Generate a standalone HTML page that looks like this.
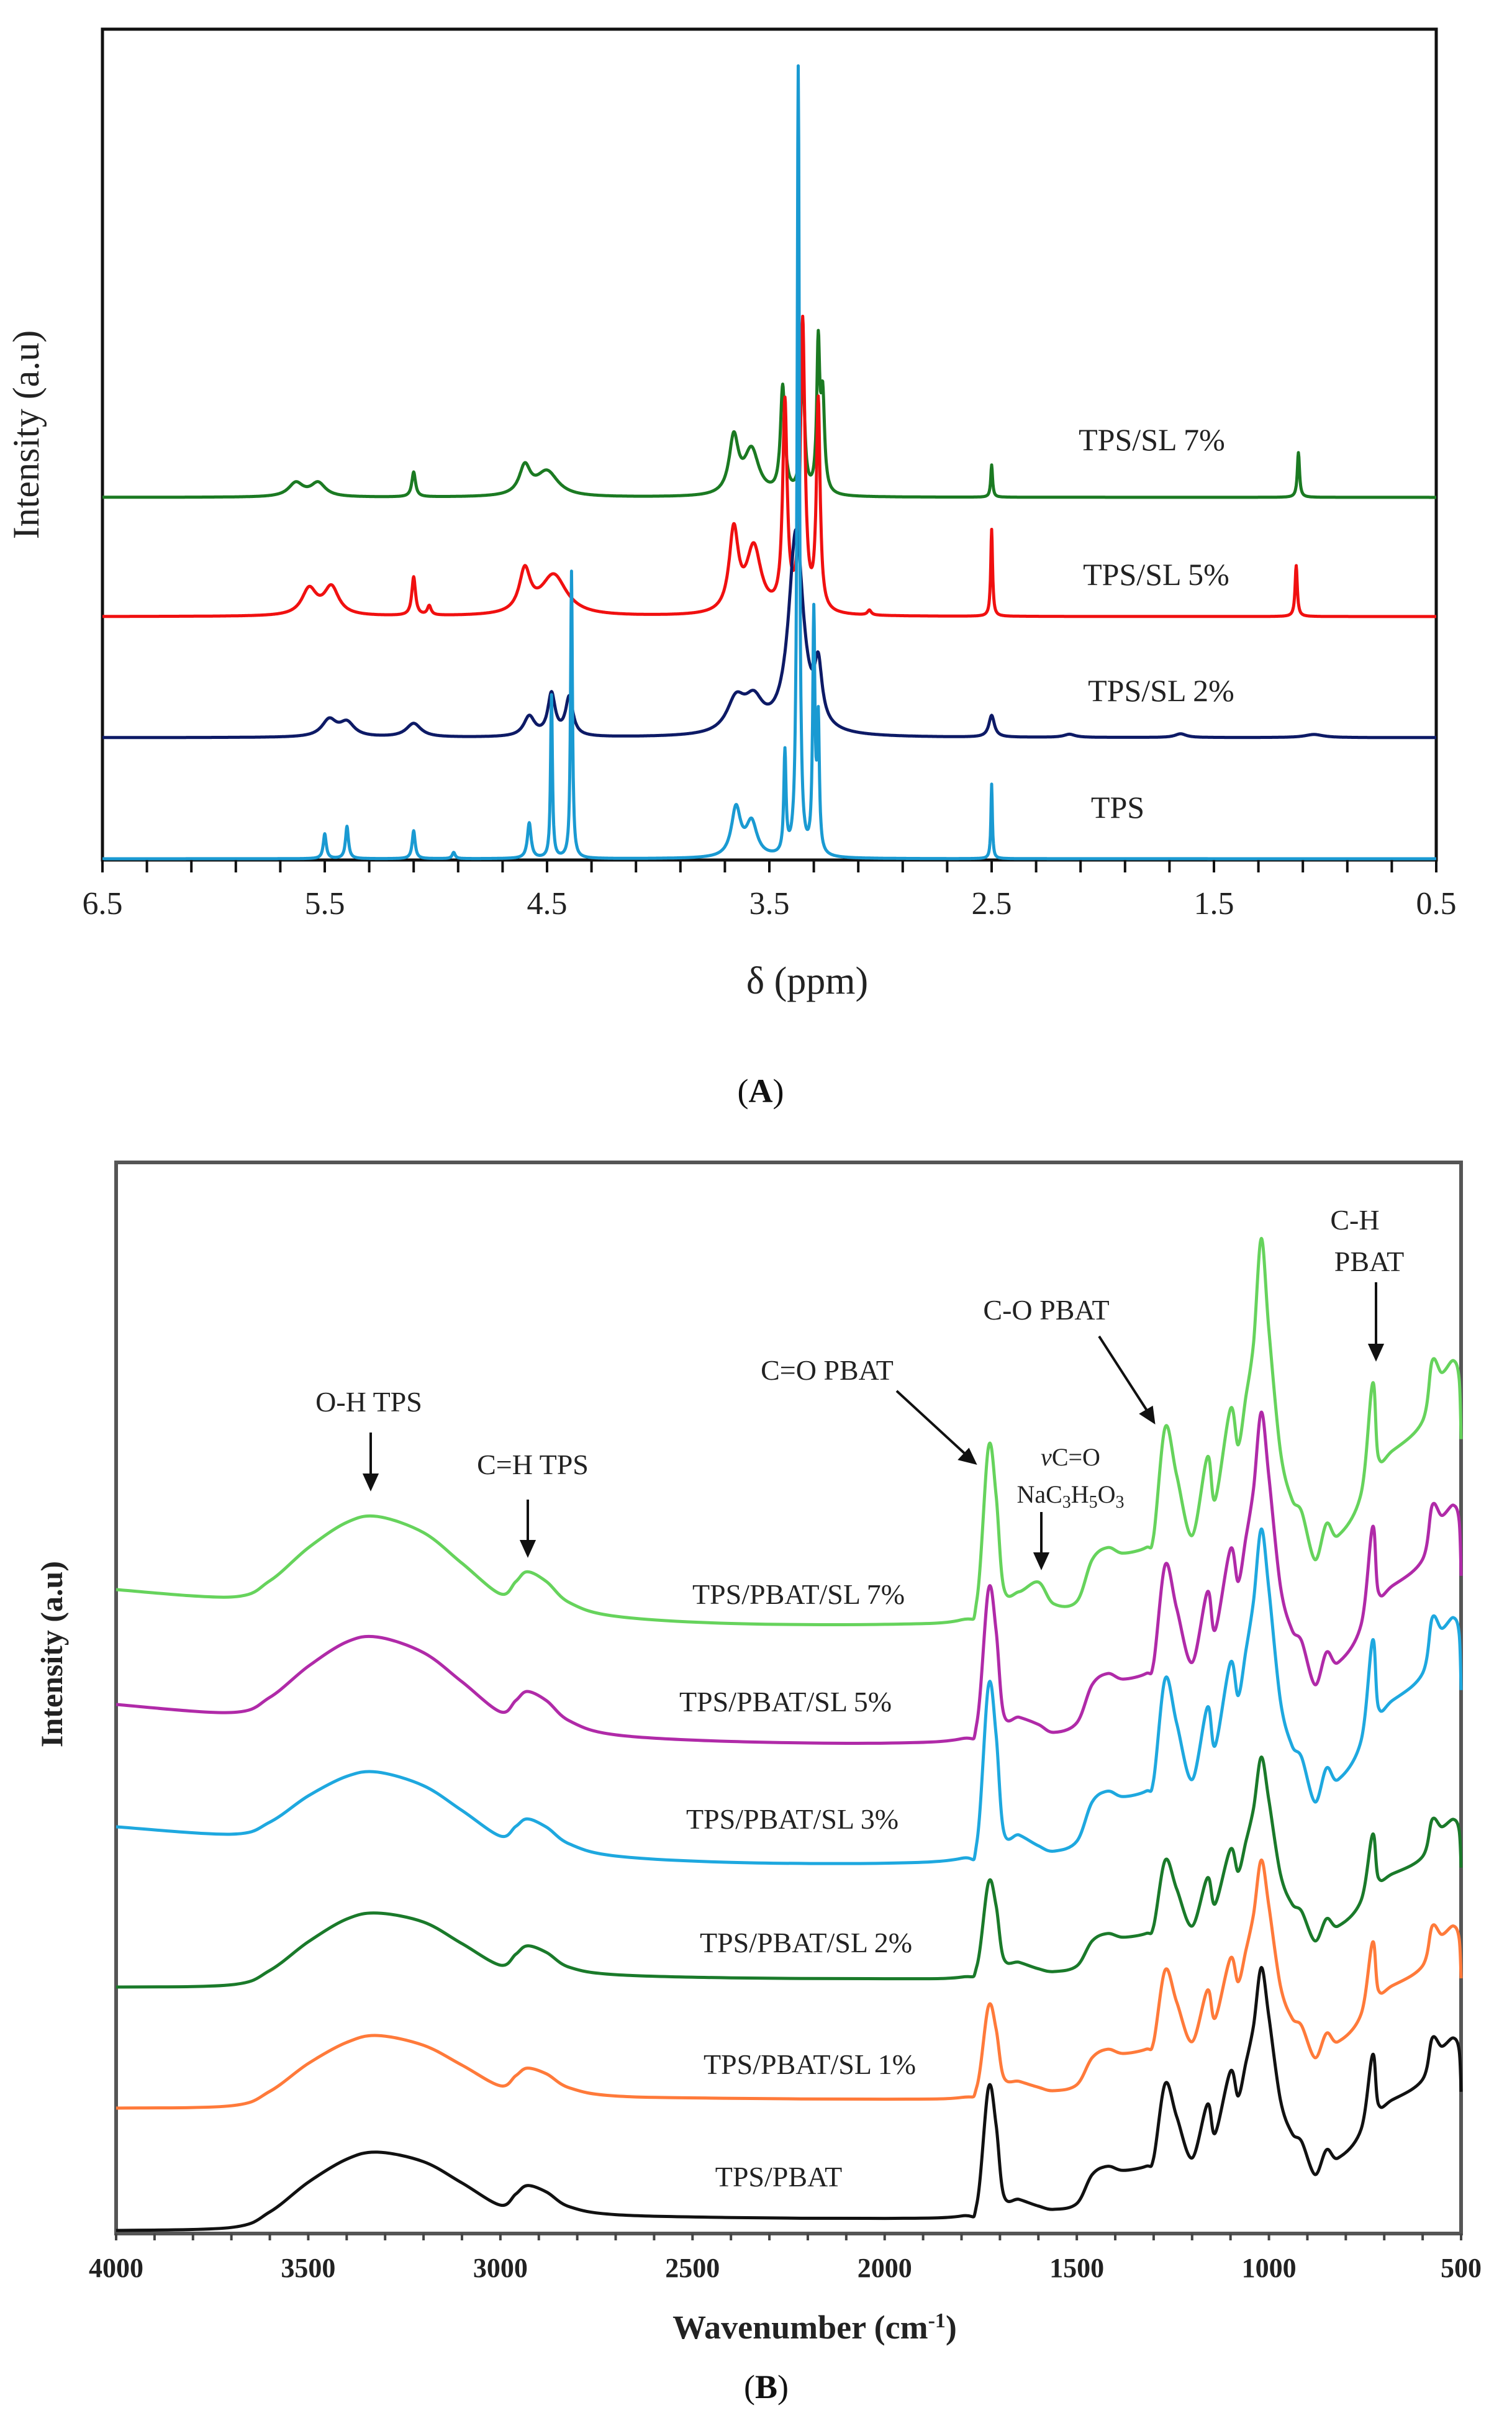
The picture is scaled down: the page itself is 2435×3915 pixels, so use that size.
<!DOCTYPE html>
<html><head><meta charset="utf-8"><style>
html,body{margin:0;padding:0;background:#fff}
svg{display:block}
text{font-family:"Liberation Serif",serif}
</style></head><body>
<svg id="fig" width="2435" height="3915" viewBox="0 0 2435 3915" xmlns="http://www.w3.org/2000/svg">
<g id="panelA">
<rect x="165" y="47" width="2148" height="1338" fill="none" stroke="#111" stroke-width="5"/>
<g id="gA"></g>
<text x="62" y="700" font-size="60" text-anchor="middle" transform="rotate(-90 62 700)" fill="#222">Intensity  (a.u)</text>
<text x="1300" y="1600" font-size="62" text-anchor="middle" fill="#222">δ (ppm)</text>
<text x="1855" y="725" font-size="50" text-anchor="middle" fill="#222">TPS/SL  7%</text>
<text x="1862" y="942" font-size="50" text-anchor="middle" fill="#222">TPS/SL  5%</text>
<text x="1870" y="1129" font-size="50" text-anchor="middle" fill="#222">TPS/SL  2%</text>
<text x="1800" y="1317" font-size="50" text-anchor="middle" fill="#222">TPS</text>
<text x="1225" y="1775" font-size="54" text-anchor="middle" fill="#111">(<tspan font-weight="bold">A</tspan>)</text>
</g>
<g id="panelB">
<rect x="187" y="1872" width="2166" height="1725" fill="none" stroke="#555" stroke-width="6"/>
<g id="gB"></g>
<text x="100" y="2664" font-size="50" font-weight="bold" text-anchor="middle" transform="rotate(-90 100 2664)" fill="#222">Intensity (a.u)</text>
<text x="1312" y="3766" font-size="54" font-weight="bold" text-anchor="middle" fill="#222">Wavenumber (cm<tspan baseline-shift="super" font-size="34">-1</tspan>)</text>
<text x="1234" y="3862" font-size="54" text-anchor="middle" fill="#111">(<tspan font-weight="bold">B</tspan>)</text>
<g font-size="46" fill="#222" text-anchor="middle">
<text x="1286" y="2583">TPS/PBAT/SL  7%</text>
<text x="1265" y="2756">TPS/PBAT/SL  5%</text>
<text x="1276" y="2945">TPS/PBAT/SL  3%</text>
<text x="1298" y="3144">TPS/PBAT/SL  2%</text>
<text x="1304" y="3340">TPS/PBAT/SL  1%</text>
<text x="1254" y="3521">TPS/PBAT</text>
<text x="594" y="2273">O-H TPS</text>
<text x="858" y="2374">C=H TPS</text>
<text x="1332" y="2222">C=O PBAT</text>
<text x="1685" y="2125">C-O PBAT</text>
<text x="2182" y="1980">C-H</text>
<text x="2205" y="2047">PBAT</text>
<text x="1724" y="2360" font-size="40"><tspan font-style="italic">v</tspan>C=O</text>
<text x="1724" y="2420" font-size="40">NaC<tspan font-size="28" dy="8">3</tspan><tspan dy="-8">H</tspan><tspan font-size="28" dy="8">5</tspan><tspan dy="-8">O</tspan><tspan font-size="28" dy="8">3</tspan></text>
</g>
<g stroke="#111" stroke-width="4" fill="#111">
<line x1="597" y1="2307" x2="597" y2="2380"/><polygon points="587,2375 607,2375 597,2397"/>
<line x1="850" y1="2415" x2="850" y2="2487"/><polygon points="840,2482 860,2482 850,2504"/>
<line x1="1677" y1="2435" x2="1677" y2="2507"/><polygon points="1667,2502 1687,2502 1677,2524"/>
<line x1="2216" y1="2065" x2="2216" y2="2171"/><polygon points="2206,2166 2226,2166 2216,2188"/>
<line x1="1444" y1="2240" x2="1556" y2="2343"/><polygon points="1546,2350 1560,2335 1570,2356"/>
<line x1="1770" y1="2152" x2="1848" y2="2273"/><polygon points="1838,2277 1855,2267 1858,2290"/>
</g>
</g>
</svg>
<script>
// ---------- Panel A data (NMR peak lists; heights in px above baseline) ----------
const nmrTickLabels = ["6.5","5.5","4.5","3.5","2.5","1.5","0.5"];
const nmrSeriesNames = ["TPS/SL 7%","TPS/SL 5%","TPS/SL 2%","TPS"];
const nmrColors = ["#1b7a22","#f01010","#0d1a66","#1a9ad2"];
const nmrOffsets = [582, 390, 195, 0];
const ppm7 = [5.63,5.53,5.10,4.60,4.50,3.66,3.58,3.44,3.35,3.28,3.26,2.50,1.12];
const h7   = [22,22,40,45,40,90,72,172,210,232,150,52,72];
const w7   = [0.04,0.04,0.01,0.03,0.06,0.025,0.04,0.012,0.01,0.008,0.01,0.005,0.006];
const ppm5 = [5.57,5.47,5.10,5.03,4.60,4.47,3.66,3.57,3.43,3.35,3.28,3.05,2.50,1.13];
const h5   = [42,45,62,15,67,65,130,105,332,465,337,8,140,82];
const w5   = [0.04,0.04,0.01,0.01,0.03,0.07,0.025,0.04,0.012,0.012,0.01,0.01,0.005,0.006];
const ppm2 = [5.48,5.40,5.10,4.58,4.48,4.40,3.65,3.57,3.38,3.28,2.50,2.15,1.65,1.05];
const h2   = [27,22,22,32,67,62,52,47,327,90,35,5,6,5];
const w2   = [0.04,0.04,0.04,0.03,0.02,0.02,0.05,0.05,0.04,0.02,0.015,0.03,0.03,0.05];
const ppm0 = [5.50,5.40,5.10,4.92,4.58,4.48,4.39,3.65,3.58,3.43,3.37,3.30,3.28,2.50];
const h0   = [40,52,45,10,57,262,462,78,55,162,1270,382,207,120];
const w0   = [0.008,0.008,0.008,0.008,0.01,0.005,0.005,0.025,0.03,0.006,0.006,0.006,0.006,0.004];

// ---------- Panel B data (FTIR; heights above each baseline) ----------
const ftirTickLabels = ["4000","3500","3000","2500","2000","1500","1000","500"];
const ftirSeriesNames = ["TPS/PBAT/SL 7%","TPS/PBAT/SL 5%","TPS/PBAT/SL 3%","TPS/PBAT/SL 2%","TPS/PBAT/SL 1%","TPS/PBAT"];
const ftirColors = ["#66d35c","#b02aa8","#1ea8df","#1a7a2a","#ff7a3a","#111111"];
const ftirBaseLeft = [2560,2745,2942,3200,3395,3592];
const ftirBaseMid  = [2628,2818,3010,3196,3390,3582];
const ftirGain = [0.96,0.95,1.07,1.11,1.01,0.99];
const wn = [4000,3700,3600,3500,3400,3320,3200,3100,3000,2960,2930,2880,2820,2700,2400,2000,1800,1760,1730,1710,1690,1650,1600,1560,1500,1460,1420,1380,1320,1300,1270,1240,1200,1160,1140,1100,1080,1060,1040,1020,1000,970,940,915,880,850,820,760,730,715,680,600,575,550,520,505,500];
const ftir7 = [0,2,25,68,102,112,97,64,31,47,60,50,27,15,10,9,15,40,230,170,55,50,62,35,38,90,105,98,105,120,255,195,120,218,165,278,233,293,360,490,375,225,165,150,90,135,120,173,310,218,225,263,338,323,338,315,240];
const ftir5 = [0,2,24,65,98,107,93,62,30,45,57,48,26,14,10,8,14,34,202,150,45,41,32,22,34,82,96,89,96,110,233,178,110,199,151,253,212,267,329,425,343,206,151,137,82,123,110,158,281,199,206,240,308,295,308,288,219];
const ftir3 = [0,2,20,55,82,90,78,52,25,38,48,40,22,12,8,7,12,30,205,150,42,38,26,20,31,75,87,81,87,100,213,163,100,181,138,231,194,244,300,380,312,188,138,125,75,113,100,144,256,181,188,219,281,269,281,263,200];
const ftir2 = [0,2,19,53,80,87,76,50,24,37,47,39,21,12,8,7,8,20,110,85,28,24,17,14,20,47,55,51,55,63,134,103,63,115,87,146,122,154,190,245,198,119,87,79,47,71,63,91,162,115,119,138,178,170,178,166,126];
const ftir1 = [0,2,19,52,77,85,73,49,24,36,45,38,21,11,8,7,9,22,117,90,33,28,21,17,24,56,66,61,66,75,160,122,75,136,103,174,146,183,226,290,235,141,103,94,56,85,75,108,193,136,141,165,212,202,212,197,150];
const ftir0 = [0,2,20,55,82,90,78,52,25,38,48,40,22,12,8,7,10,25,165,120,35,30,22,18,25,60,70,65,70,80,170,130,80,145,110,185,155,195,240,310,250,150,110,100,60,90,80,115,205,145,150,175,225,215,225,210,160];

const NS="http://www.w3.org/2000/svg";
function mk(tag, attrs){const e=document.createElementNS(NS,tag);for(const k in attrs)e.setAttribute(k,attrs[k]);return e;}

// Panel A axes
const A={x0:165,x1:2313,y1:1383,p0:6.5,p1:0.5};
function xA(p){return A.x0+(A.p0-p)/(A.p0-A.p1)*(A.x1-A.x0);}
const gA=document.getElementById('gA');
const nmrPeaks=[[ppm7,h7,w7],[ppm5,h5,w5],[ppm2,h2,w2],[ppm0,h0,w0]];
nmrPeaks.forEach((pk,si)=>{
  let d='';
  for(let p=6.5;p>=0.499;p-=0.002){
    let v=0;
    for(let i=0;i<pk[0].length;i++){const g=pk[2][i];const t=(p-pk[0][i])/g;v+=pk[1][i]/(1+t*t);}
    const y=A.y1-nmrOffsets[si]-v;
    d+=(d?'L':'M')+xA(p).toFixed(1)+','+y.toFixed(1);
  }
  const path=mk('path',{d:d,fill:'none',stroke:nmrColors[si],'stroke-width':5,'stroke-linejoin':'round'});
  
  
  gA.appendChild(path);
});
for(let k=0;k<=30;k++){
  const p=6.5-k*0.2;const x=xA(p);
  const t=mk('line',{x1:x,y1:1385,x2:x,y2:1405,stroke:'#111','stroke-width':4});
  
  
  gA.appendChild(t);
}
nmrTickLabels.forEach(l=>{
  const t=mk('text',{x:xA(parseFloat(l)),y:1472,'font-size':52,'text-anchor':'middle',fill:'#222'});
  t.textContent=l;
  
  
  gA.appendChild(t);
});

// Panel B axes
const B={x0:187,x1:2353,w0:4000,w1:500};
function xB(w){return B.x0+(B.w0-w)/(B.w0-B.w1)*(B.x1-B.x0);}
function baseB(si,w){ if(w<=2600) return ftirBaseMid[si]; const f=(4000-w)/1400; return ftirBaseLeft[si]+(ftirBaseMid[si]-ftirBaseLeft[si])*f; }
const pxPerUnit=1.3466;
const gB=document.getElementById('gB');
const ftirData=[ftir7,ftir5,ftir3,ftir2,ftir1,ftir0];
ftirData.forEach((arr,si)=>{
  const pts=wn.map((w,i)=>{
    const g = w>=2000 ? 1.0 : ftirGain[si];
    return [xB(w), baseB(si,w)-arr[i]*pxPerUnit*g];
  });
  let d='M'+pts[0][0].toFixed(1)+','+pts[0][1].toFixed(1);
  for(let i=0;i<pts.length-1;i++){
    const p0=pts[Math.max(0,i-1)],p1=pts[i],p2=pts[i+1],p3=pts[Math.min(pts.length-1,i+2)];
    const c1=[p1[0]+(p2[0]-p0[0])/6,p1[1]+(p2[1]-p0[1])/6];
    const c2=[p2[0]-(p3[0]-p1[0])/6,p2[1]-(p3[1]-p1[1])/6];
    d+='C'+c1[0].toFixed(1)+','+c1[1].toFixed(1)+' '+c2[0].toFixed(1)+','+c2[1].toFixed(1)+' '+p2[0].toFixed(1)+','+p2[1].toFixed(1);
  }
  const path=mk('path',{d:d,fill:'none',stroke:ftirColors[si],'stroke-width':5,'stroke-linejoin':'round'});
  
  
  gB.appendChild(path);
});
for(let w=4000;w>=500;w-=100){
  const x=xB(w);
  const t=mk('line',{x1:x,y1:3597,x2:x,y2:3608,stroke:'#444','stroke-width':4});
  
  
  gB.appendChild(t);
}
ftirTickLabels.forEach(l=>{
  const t=mk('text',{x:xB(parseFloat(l)),y:3667,'font-size':44,'font-weight':'bold','text-anchor':'middle',fill:'#222'});
  t.textContent=l;
  
  
  gB.appendChild(t);
});
</script>
</body></html>
